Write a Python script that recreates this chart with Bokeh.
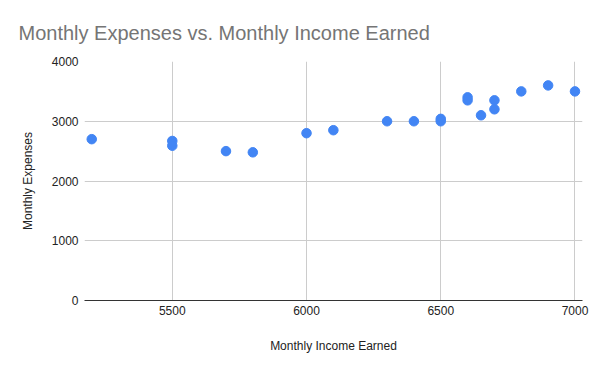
from bokeh.plotting import figure
from bokeh.models import Range1d, FixedTicker, ColumnDataSource
from bokeh.embed import file_html
from bokeh.resources import INLINE

income = [5200, 5500, 5500, 5700, 5800, 6000, 6100, 6300, 6400, 6500, 6500,
          6600, 6600, 6650, 6700, 6700, 6800, 6900, 7000]
expenses = [2700, 2670, 2590, 2500, 2480, 2800, 2850, 3000, 3000, 3040, 3000,
            3400, 3350, 3100, 3350, 3200, 3500, 3600, 3500]
x_ticks = [5500, 6000, 6500, 7000]
y_ticks = [0, 1000, 2000, 3000, 4000]

FONT = "Liberation Sans"

p = figure(width=600, height=371, output_backend="svg", toolbar_location=None,
           x_range=Range1d(5173, 7028), y_range=Range1d(0, 4000),
           min_border_left=84, min_border_right=18, min_border_top=61,
           min_border_bottom=71)
p.outline_line_color = None

p.title.text = "Monthly Expenses vs. Monthly Income Earned"
p.title.text_font = FONT
p.title.text_font_size = "20px"
p.title.text_font_style = "normal"
p.title.text_color = "#757575"
p.title.align = "left"
p.title.offset = -66
p.title.standoff = 35

src = ColumnDataSource(dict(x=income, y=expenses))
p.scatter("x", "y", source=src, size=9.5, fill_color="#4285F4", line_color="#4285F4")

for ax in (p.xaxis[0], p.yaxis[0]):
    ax.major_tick_line_color = None
    ax.minor_tick_line_color = None
    ax.major_tick_out = 0
    ax.major_tick_in = 0
    ax.minor_tick_out = 0
    ax.minor_tick_in = 0
    ax.major_label_text_font = FONT
    ax.major_label_text_font_size = "12px"
    ax.major_label_text_color = "#222222"
    ax.axis_label_text_font = FONT
    ax.axis_label_text_font_size = "12px"
    ax.axis_label_text_font_style = "normal"
    ax.axis_label_text_color = "#222222"

p.xaxis.ticker = FixedTicker(ticks=x_ticks)
p.yaxis.ticker = FixedTicker(ticks=y_ticks)
p.xaxis.axis_label = "Monthly Income Earned"
p.yaxis.axis_label = "Monthly Expenses"
p.xaxis.axis_line_color = "#333333"
p.yaxis.axis_line_color = None
p.xaxis.major_label_standoff = 5
p.yaxis.major_label_standoff = 6
p.xaxis.axis_label_standoff = 21
p.yaxis.axis_label_standoff = 14

p.xgrid.grid_line_color = "#cccccc"
p.ygrid.grid_line_color = "#cccccc"

open("out.html", "w").write(file_html(p, INLINE))
